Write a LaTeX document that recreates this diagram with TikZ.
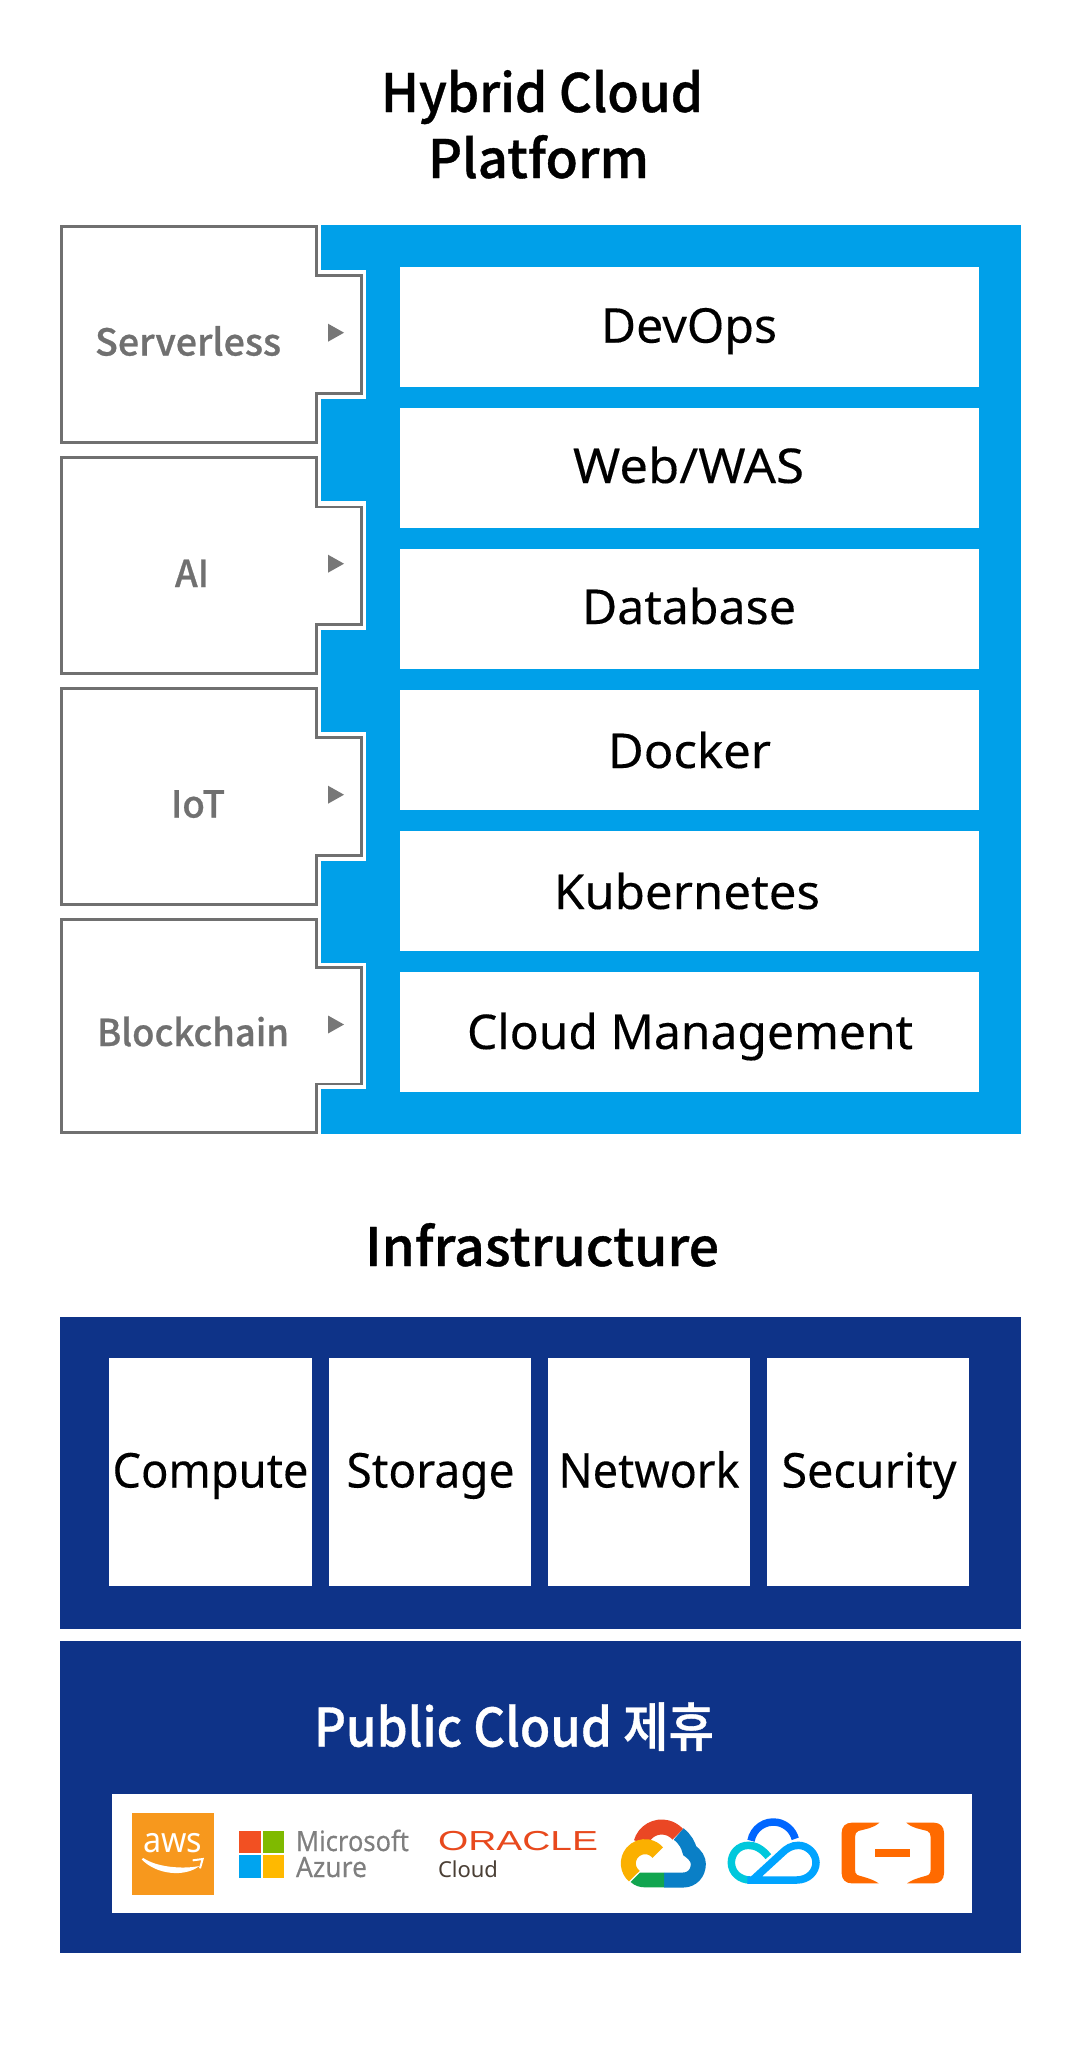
\documentclass[tikz,border=0pt]{standalone}
\usepackage{fontspec}
\usepackage{graphicx}
\setmainfont[FakeBold=0.2]{Noto Sans}
\newfontfamily\plainf{Noto Sans}
\newfontfamily\cjkf[FakeBold=0.7]{Noto Sans CJK KR Medium}
\newfontfamily\libf{Liberation Sans}
\definecolor{skyb}{HTML}{00A0E9}
\definecolor{navyb}{HTML}{0E3388}
\definecolor{grayl}{HTML}{707070}
\definecolor{awso}{HTML}{F7981D}
\definecolor{orac}{HTML}{E8491D}
\definecolor{msg}{HTML}{7F7F7F}
\definecolor{gred}{HTML}{EA4724}
\definecolor{gblue}{HTML}{0A7FC6}
\definecolor{ggreen}{HTML}{12A54F}
\definecolor{gyel}{HTML}{FBB000}
\definecolor{tcdark}{HTML}{0066FF}
\definecolor{tclight}{HTML}{00A4FF}
\definecolor{tcteal}{HTML}{00C8DC}
\definecolor{alio}{HTML}{FF6A00}
\newcommand\fitw[2]{\resizebox{#1pt}{\height}{#2}}
\newcommand\fpx[1]{\fontsize{#1}{#1}\selectfont}
\def\alibr{(1018,188) -- (935,188) .. controls (917,188) and (905,200) .. (905,218) -- (905,340) .. controls (905,358) and (917,370) .. (935,370) -- (1016,370) .. controls (995,355) and (965,350) .. (952,345) .. controls (947,342) and (945,336) .. (945,328) -- (945,232) .. controls (945,222) and (948,216) .. (955,213) .. controls (975,207) and (1000,205) .. (1018,188) -- cycle}
\tikzset{
  txt/.style={inner sep=0pt,outer sep=0pt,anchor=base west},
  titletxt/.style={txt,font=\cjkf\fpx{53}},
  bodytxt/.style={txt,font=\fpx{48},text=black},
  sidetxt/.style={txt,font=\cjkf\fpx{37},text=grayl},
  sidebox/.style={draw=grayl,line width=2.7pt,fill=white,miter limit=10},
  wbox/.style={fill=white},
  tri/.style={fill=grayl!95!white},
  logoscope/.style={shift={(#1,1760)},x=0.33333pt,y=-0.33333pt},
}
\begin{document}
\begin{tikzpicture}[x=1pt,y=-1pt]
\useasboundingbox[fill=white] (0,0) rectangle (1080,2061);
% titles
\node[titletxt] (t1) at (381,112) {\fitw{322}{Hybrid Cloud}};
\node[titletxt] (t2) at (428,178) {\fitw{221}{Platform}};
\node[titletxt] (t3) at (365,1266) {\fitw{354}{Infrastructure}};
% blue panel
\fill[skyb] (321,225) rectangle (1021,1134);
% cut-outs
\foreach \a/\b in {270/399,501/630,732/861,963/1089}
  \fill[white] (319,\a) rectangle (366,\b);
% white rows
\foreach \a/\b in {267/387,408/528,549/669,690/810,831/951,972/1092}
  \fill[wbox] (400,\a) rectangle (979,\b);
\node[bodytxt] (r1) at (601,342.7) {\fitw{176}{DevOps}};
\node[bodytxt] (r2) at (573,483) {\fitw{231}{Web/WAS}};
\node[bodytxt] (r3) at (582,624) {\fitw{214}{Database}};
\node[bodytxt] (r4) at (608,768) {\fitw{163}{Docker}};
\node[bodytxt] (r5) at (554,909) {\fitw{266}{Kubernetes}};
\node[bodytxt] (r6) at (467,1049) {\fitw{446}{Cloud Management}};
% side boxes
\draw[sidebox] (61.4,226.4) -- (316.4,226.4) -- (316.4,275.3) -- (361.7,275.3) -- (361.7,393.3) -- (316.4,393.3) -- (316.4,442.4) -- (61.4,442.4) -- cycle;
\draw[sidebox] (61.4,457.4) -- (316.4,457.4) -- (316.4,507) -- (361.7,507) -- (361.7,624.4) -- (316.4,624.4) -- (316.4,673.6) -- (61.4,673.6) -- cycle;
\draw[sidebox] (61.4,688.5) -- (316.4,688.5) -- (316.4,737.3) -- (361.7,737.3) -- (361.7,855.7) -- (316.4,855.7) -- (316.4,904.2) -- (61.4,904.2) -- cycle;
\draw[sidebox] (61.4,919.7) -- (316.4,919.7) -- (316.4,967.3) -- (361.7,967.3) -- (361.7,1084) -- (316.4,1084) -- (316.4,1132.3) -- (61.4,1132.3) -- cycle;
\foreach \c in {332.7,563.7,794.7,1024.5}
  \fill[tri] (328,\c-9) -- (344,\c) -- (328,\c+9) -- cycle;
\node[sidetxt] (s1) at (95,355.5) {\fitw{186}{Serverless}};
\node[sidetxt] (s2) at (175,587) {\fitw{34}{AI}};
\node[sidetxt] (s3) at (171,817.5) {\fitw{54}{IoT}};
\node[sidetxt] (s4) at (97,1046) {\fitw{192}{Blockchain}};
% infrastructure
\fill[navyb] (60,1317) rectangle (1021,1629);
\fill[navyb] (60,1641) rectangle (1021,1953);
\foreach \a/\b in {109/312,329/531,548/750,767/969}
  \fill[wbox] (\a,1358) rectangle (\b,1586);
\node[bodytxt] (i1) at (112.5,1487.5) {\fitw{196}{Compute}};
\node[bodytxt] (i2) at (346.5,1487.5) {\fitw{168}{Storage}};
\node[bodytxt] (i3) at (558.5,1487.5) {\fitw{181}{Network}};
\node[bodytxt] (i4) at (781.5,1487.5) {\fitw{175}{Security}};
\node[titletxt,text=white] (pc) at (314,1746.5) {\fitw{400}{Public Cloud 제휴}};
% logo strip
\fill[white] (112,1794) rectangle (972,1913);
% aws
\fill[awso] (132,1813) rectangle (213.5,1894.5);
\node[txt,font=\plainf\fpx{35},text=white] (aws) at (143,1852.7) {\fitw{59}{aws}};
\begin{scope}[logoscope=40]
  \fill[white] (305,298) .. controls (350,345) and (435,352) .. (478,318) .. controls (430,328) and (350,322) .. (310,294) -- cycle;
  \draw[white,line width=2pt] (458,301) -- (488,297) -- (480,325);
\end{scope}
% microsoft
\fill[fill={rgb,255:red,242;green,80;blue,34}] (239,1831) rectangle (261,1853);
\fill[fill={rgb,255:red,127;green,186;blue,0}] (263,1831) rectangle (284,1853);
\fill[fill={rgb,255:red,0;green,164;blue,239}] (239,1855) rectangle (261,1878);
\fill[fill={rgb,255:red,255;green,185;blue,0}] (263,1855) rectangle (284,1878);
\node[txt,font=\fpx{28},text=msg] (ms1) at (296,1851) {\fitw{113}{Microsoft}};
\node[txt,font=\fpx{28},text=msg] (ms2) at (296,1877) {\fitw{71}{Azure}};
% oracle
\node[txt,font=\libf\fpx{27.5},text=orac] (or1) at (438,1850) {\fitw{160}{ORACLE}};
\node[txt,font=\plainf\fpx{22},text={rgb,255:red,74;green,63;blue,53}] (or2) at (438,1877) {\fitw{60}{Cloud}};
% google cloud
\begin{scope}[logoscope=540]
  \draw[gred,line width=15pt] (365,265) ++(195:64) arc (195:319:64);
  \draw[gblue,line width=15pt] (416,222) .. controls (436,238) and (445,255) .. (449,272) .. controls (468,285) and (475,300) .. (475,312) .. controls (475,340) and (455,360) .. (430,360) -- (372,360);
  \fill[ggreen] (372,338) -- (300,338) -- (272,366) .. controls (285,378) and (300,382) .. (315,382) -- (372,382) -- cycle;
  \draw[gyel,line width=15pt] (315,310) ++(130:50) arc (130:320:50);
  % tencent cloud
  \draw[tcdark,line width=7.5pt] (700,254) ++(190:68) arc (190:345:68);
  \draw[tcteal,line width=7.5pt] (685,290) .. controls (665,265) and (645,256) .. (625,256) .. controls (595,256) and (574,280) .. (574,308) .. controls (574,338) and (600,360) .. (630,360);
  \draw[tclight,line width=7.5pt] (622,360) -- (770,360) .. controls (805,360) and (828,335) .. (828,308) .. controls (828,280) and (803,256) .. (775,256) .. controls (755,256) and (740,265) .. (725,280) -- (640,358);
  % alibaba cloud
  \fill[alio] \alibr;
  \begin{scope}[shift={(2117,0)},xscale=-1]
    \fill[alio] \alibr;
  \end{scope}
  \fill[alio] (1005,268) rectangle (1110,292);
\end{scope}
\end{tikzpicture}
\end{document}
